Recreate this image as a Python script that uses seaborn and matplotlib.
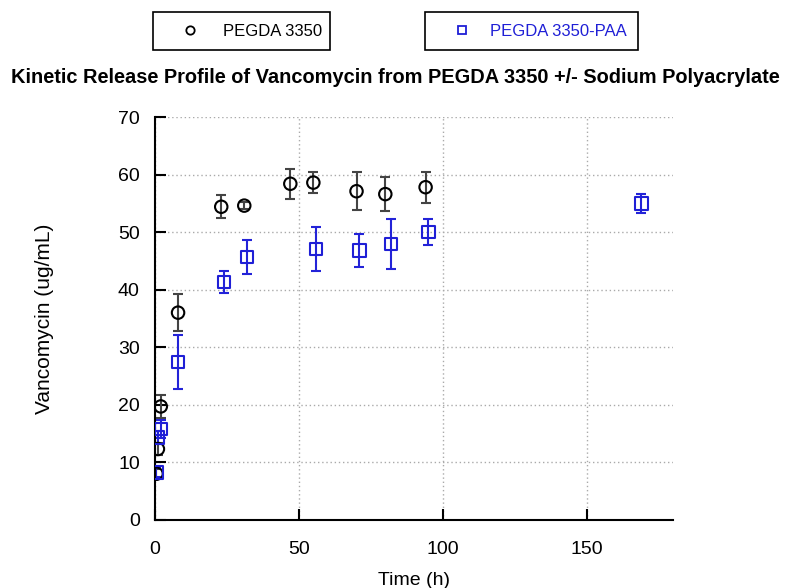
import numpy as np
import pandas as pd
import matplotlib
matplotlib.use("Agg")
import matplotlib.pyplot as plt
from matplotlib.lines import Line2D
from matplotlib.patches import Rectangle
import seaborn as sns

sns.set_style("white")
plt.rcParams['font.family'] = ['Liberation Sans', 'DejaVu Sans']
plt.rcParams['text.color'] = 'black'
plt.rcParams['axes.labelcolor'] = 'black'

#%% data
t_peg = [0.5, 1, 2, 8, 23, 31, 47, 55, 70, 80, 94]
v_peg = [8.0, 12.3, 19.7, 36.0, 54.4, 54.6, 58.4, 58.6, 57.1, 56.6, 57.8]
e_peg = [0.8, 1.0, 2.0, 3.2, 2.0, 0.6, 2.6, 1.8, 3.3, 2.9, 2.7]

t_paa = [0.5, 1, 2, 8, 24, 32, 56, 71, 82, 95, 169]
v_paa = [8.2, 14.3, 15.8, 27.4, 41.3, 45.7, 47.1, 46.8, 47.9, 50.0, 55.0]
e_paa = [0.8, 1.2, 1.6, 4.7, 1.9, 2.9, 3.8, 2.9, 4.3, 2.3, 1.7]

names = ["PEGDA 3350", "PEGDA 3350-PAA"]
cols = {"PEGDA 3350": "black", "PEGDA 3350-PAA": "#1f1fd6"}
ecols = {"PEGDA 3350": "#444444", "PEGDA 3350-PAA": "#2323d8"}
marks = {"PEGDA 3350": "o", "PEGDA 3350-PAA": "s"}

df = pd.DataFrame({
    "t": t_peg + t_paa,
    "v": v_peg + v_paa,
    "e": e_peg + e_paa,
    "grp": [names[0]] * len(t_peg) + [names[1]] * len(t_paa),
})

#%%
W, H = 791, 588
fig = plt.figure(figsize=(W / 100, H / 100), dpi=100)
ax = fig.add_axes([0.196, 0.116, 0.655, 0.685])

for g in names:
    d = df[df.grp == g]
    ax.errorbar(d.t, d.v, yerr=d.e, fmt="none", ecolor=ecols[g],
                elinewidth=1.5, capsize=3.5, capthick=1.5, zorder=2)
    sns.scatterplot(data=d, x="t", y="v", marker=marks[g], s=80,
                    facecolor="none", edgecolor=cols[g], linewidth=1.5,
                    ax=ax, zorder=3, legend=False)

ax.set_xlim(0, 180)
ax.set_ylim(0, 70)
ax.set_xticks([0, 50, 100, 150])
ax.set_yticks(range(0, 71, 10))
ax.grid(True, linestyle=(0, (1, 2)), color="#aaaaaa", linewidth=1)
for s in ["top", "right"]:
    ax.spines[s].set_visible(False)
for s in ["left", "bottom"]:
    ax.spines[s].set_color("black")
    ax.spines[s].set_linewidth(1.5)
ax.tick_params(direction="in", length=8, width=1.5, labelsize=14,
               colors="black", top=False, right=False, left=True, bottom=True)
ax.tick_params(axis="x", pad=15)
ax.tick_params(axis="y", pad=11)
ax.set_xlabel("Time (h)", fontsize=14, labelpad=10)
ax.set_ylabel("Vancomycin (ug/mL)", fontsize=15, labelpad=46)

fig.text(0.5, 0.869, "Kinetic Release Profile of Vancomycin from PEGDA 3350 +/- Sodium Polyacrylate",
         ha="center", va="center", fontsize=14.4, fontweight="bold")

# two separate legend boxes across the top (pixel boxes: x0, x1, y0, y1)
boxes = [(153, 330, 12, 50), (425, 638, 12, 50)]
starts = [173, 445]
tpads = [1.0, 0.7]
for g, (x0, x1, y0, y1), xs, tp in zip(names, boxes, starts, tpads):
    fig.patches.append(Rectangle((x0 / W, 1 - y1 / H), (x1 - x0) / W, (y1 - y0) / H,
                                 transform=fig.transFigure, fill=False,
                                 edgecolor="black", linewidth=1.2))
    h = Line2D([], [], marker=marks[g], linestyle="none", markersize=6,
               markerfacecolor="none", markeredgecolor=cols[g], markeredgewidth=1.3)
    lg = fig.legend([h], [g], bbox_to_anchor=(xs / W, 1 - (y0 + y1) / 2 / H),
                    loc="center left", frameon=False, fontsize=12,
                    borderpad=0, borderaxespad=0, handlelength=2.0,
                    handletextpad=tp)
    lg.get_texts()[0].set_color(cols[g] if g == names[1] else "black")

plt.savefig("out.png", dpi=100)
